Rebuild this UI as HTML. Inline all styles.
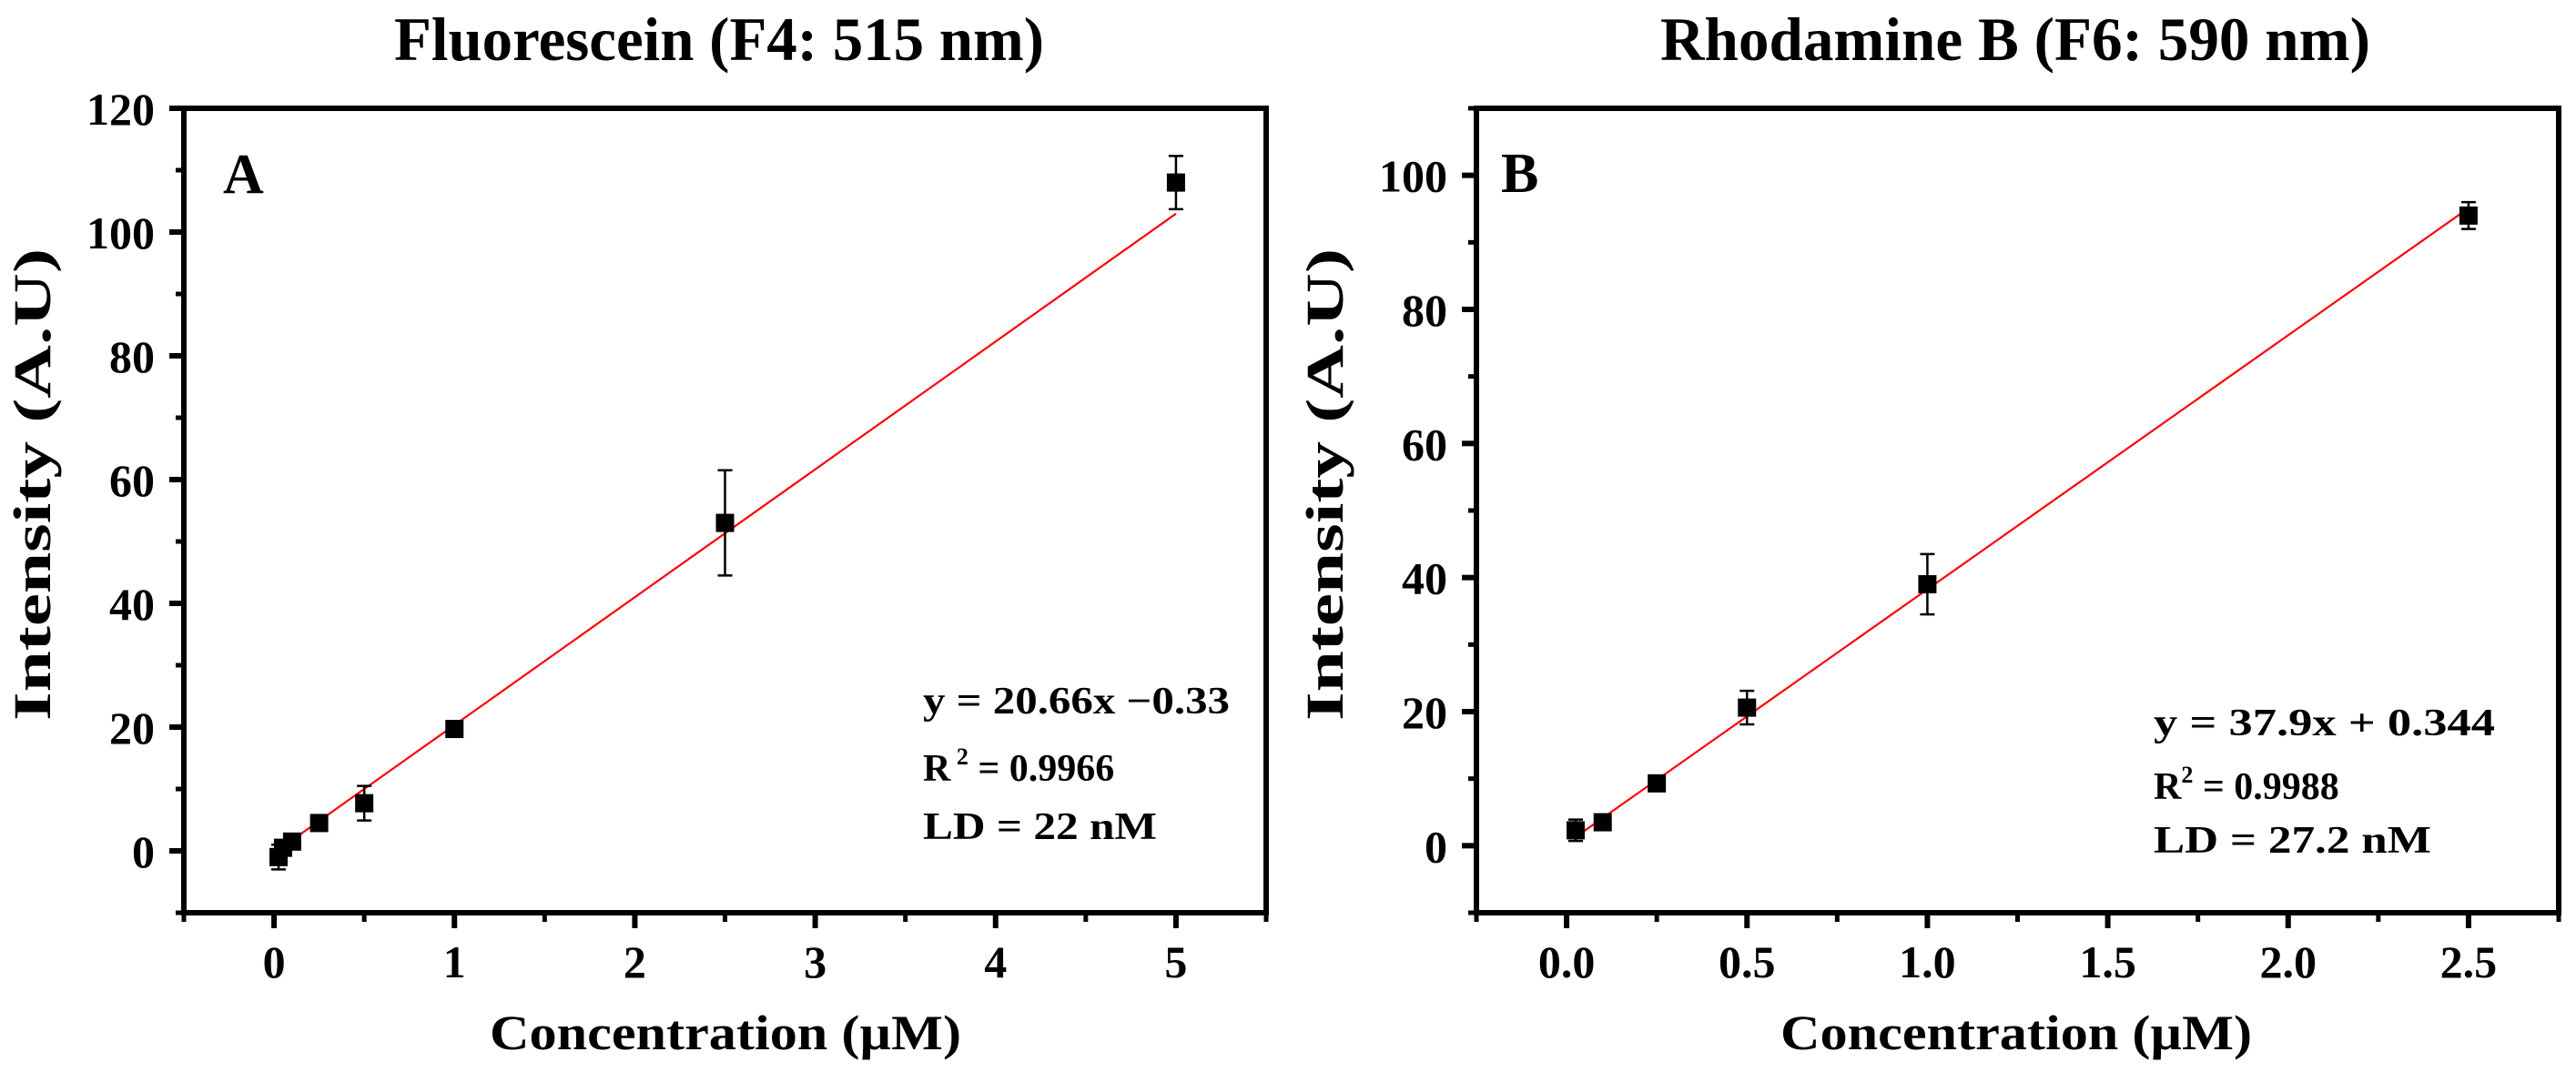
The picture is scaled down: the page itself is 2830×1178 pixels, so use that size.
<!DOCTYPE html>
<html><head><meta charset="utf-8"><style>
html,body{margin:0;padding:0;background:#fff;}
svg{display:block;}
text{font-family:"Liberation Serif",serif;font-weight:bold;fill:#000;}
</style></head><body>
<svg id="chart" width="2830" height="1178" viewBox="0 0 2830 1178" xmlns="http://www.w3.org/2000/svg"></svg>
<script>
// Panel A data
const aX = [0.025, 0.05, 0.1, 0.25, 0.5, 1, 2.5, 5];
const aY = [-1, 0.5, 1.5, 4.5, 7.7, 19.7, 53, 108];
const aErr = [2, 0.5, 0.5, 0.5, 2.8, 0.4, 8.5, 4.3];
const aSlope = 20.66, aIntercept = -0.33;
const aXTicks = [0, 1, 2, 3, 4, 5];
const aXTickLabels = ["0", "1", "2", "3", "4", "5"];
const aYTicks = [0, 20, 40, 60, 80, 100, 120];
const aYTickLabels = ["0", "20", "40", "60", "80", "100", "120"];
// Panel B data
const bX = [0.025, 0.1, 0.25, 0.5, 1, 2.5];
const bY = [2.3, 3.5, 9.3, 20.6, 39, 94];
const bErr = [1.6, 0.5, 0.5, 2.5, 4.5, 2];
const bSlope = 37.9, bIntercept = 0.344;
const bXTicks = [0, 0.5, 1, 1.5, 2, 2.5];
const bXTickLabels = ["0.0", "0.5", "1.0", "1.5", "2.0", "2.5"];
const bYTicks = [0, 20, 40, 60, 80, 100];
const bYTickLabels = ["0", "20", "40", "60", "80", "100"];

const NS = "http://www.w3.org/2000/svg";
const svg = document.getElementById('chart');
function mk(tag, attrs, parent, txt) {
  const e = document.createElementNS(NS, tag);
  for (const k in attrs) e.setAttribute(k, attrs[k]);
  if (txt !== undefined) e.textContent = txt;
  (parent || svg).appendChild(e);
  return e;
}

function panel(cfg) {
  const g = mk('g', {});
  
  
  const sx = v => cfg.x0 + (v - cfg.xmin) / (cfg.xmax - cfg.xmin) * (cfg.x1 - cfg.x0);
  const sy = v => cfg.y0 - (v - cfg.ymin) / (cfg.ymax - cfg.ymin) * (cfg.y0 - cfg.y1);

  const fr = mk('rect', {x: cfg.x0, y: cfg.y1, width: cfg.x1 - cfg.x0, height: cfg.y0 - cfg.y1, fill: 'none', stroke: '#000', 'stroke-width': 6}, g);
  
  

  for (let i = 0; i < cfg.yTicks.length; i++) {
    const v = cfg.yTicks[i], y = sy(v);
    const t = mk('line', {x1: cfg.x0 - 16, x2: cfg.x0, y1: y, y2: y, stroke: '#000', 'stroke-width': 6}, g);
    
    
    const l = mk('text', {x: cfg.x0 - 32, y: y + 18, 'font-size': 50, 'text-anchor': 'end'}, g, cfg.yTickLabels[i]);
    
    
  }
  for (let v = cfg.ymin; v <= cfg.ymax + 0.001; v += cfg.yStep / 2) {
    if (cfg.yTicks.some(t => Math.abs(t - v) < 1e-6)) continue;
    const y = sy(v);
    const t = mk('line', {x1: cfg.x0 - 9, x2: cfg.x0, y1: y, y2: y, stroke: '#000', 'stroke-width': 5}, g);
    
    
  }
  for (let i = 0; i < cfg.xTicks.length; i++) {
    const x = sx(cfg.xTicks[i]);
    const t = mk('line', {x1: x, x2: x, y1: cfg.y0, y2: cfg.y0 + 17, stroke: '#000', 'stroke-width': 6}, g);
    
    
    const l = mk('text', {x: x, y: 1074, 'font-size': 50, 'text-anchor': 'middle'}, g, cfg.xTickLabels[i]);
    
    
  }
  for (let v = cfg.xmin; v <= cfg.xmax + 1e-6; v += cfg.xStep / 2) {
    if (cfg.xTicks.some(t => Math.abs(t - v) < 1e-6)) continue;
    const x = sx(v);
    const t = mk('line', {x1: x, x2: x, y1: cfg.y0, y2: cfg.y0 + 10, stroke: '#000', 'stroke-width': 5}, g);
    
    
  }

  const xa = cfg.xs[0], xb = cfg.xs[cfg.xs.length - 1];
  const fl = mk('line', {x1: sx(xa), y1: sy(cfg.slope * xa + cfg.intercept), x2: sx(xb), y2: sy(cfg.slope * xb + cfg.intercept), stroke: '#ff0000', 'stroke-width': 2.2}, g);
  
  

  for (let i = 0; i < cfg.xs.length; i++) {
    const x = sx(cfg.xs[i]), yt = sy(cfg.ys[i] + cfg.errs[i]), yb = sy(cfg.ys[i] - cfg.errs[i]);
    const eb = mk('path', {d: `M${x},${yt}V${yb}M${x - 8},${yt}H${x + 8}M${x - 8},${yb}H${x + 8}`, stroke: '#000', 'stroke-width': 2.5, fill: 'none'}, g);
    
    
    const p = mk('rect', {x: x - 10, y: sy(cfg.ys[i]) - 10, width: 20, height: 20, fill: '#000'}, g);
    
    
  }
}

panel({name: 'panel-a', x0: 202, x1: 1391, y0: 1003, y1: 119, xmin: -0.5, xmax: 5.5, ymin: -10, ymax: 120,
  xStep: 1, yStep: 20, xTicks: aXTicks, xTickLabels: aXTickLabels, yTicks: aYTicks, yTickLabels: aYTickLabels,
  xs: aX, ys: aY, errs: aErr, slope: aSlope, intercept: aIntercept});
panel({name: 'panel-b', x0: 1622, x1: 2811, y0: 1003, y1: 119, xmin: -0.25, xmax: 2.75, ymin: -10, ymax: 110,
  xStep: 0.5, yStep: 20, xTicks: bXTicks, xTickLabels: bXTickLabels, yTicks: bYTicks, yTickLabels: bYTickLabels,
  xs: bX, ys: bY, errs: bErr, slope: bSlope, intercept: bIntercept});
</script>
<script>
(function(){
const svg = document.getElementById('chart');
const NS = "http://www.w3.org/2000/svg";
function t(name, attrs, txt) {
  const e = document.createElementNS(NS, 'text');
  for (const k in attrs) e.setAttribute(k, attrs[k]);
  e.textContent = txt;
  
  
  svg.appendChild(e);
  return e;
}
t('title-a', {x: 433, y: 66, 'font-size': 68, textLength: 714, lengthAdjust: 'spacingAndGlyphs'}, 'Fluorescein (F4: 515 nm)');
t('title-b', {x: 1824, y: 66, 'font-size': 68, textLength: 780, lengthAdjust: 'spacingAndGlyphs'}, 'Rhodamine B (F6: 590 nm)');
t('panel-label-a', {x: 245, y: 212, 'font-size': 62}, 'A');
t('panel-label-b', {x: 1649, y: 211, 'font-size': 62}, 'B');
t('x-axis-title-a', {x: 538, y: 1153, 'font-size': 54, textLength: 518, lengthAdjust: 'spacingAndGlyphs'}, 'Concentration (µM)');
t('x-axis-title-b', {x: 1956, y: 1153, 'font-size': 54, textLength: 518, lengthAdjust: 'spacingAndGlyphs'}, 'Concentration (µM)');
t('y-axis-title-a', {x: 0, y: 0, 'font-size': 58, textLength: 519, lengthAdjust: 'spacingAndGlyphs', transform: 'translate(55,792) rotate(-90)'}, 'Intensity (A.U)');
t('y-axis-title-b', {x: 0, y: 0, 'font-size': 58, textLength: 519, lengthAdjust: 'spacingAndGlyphs', transform: 'translate(1475,792) rotate(-90)'}, 'Intensity (A.U)');
t('equation-a', {x: 1014, y: 784, 'font-size': 42, textLength: 337, lengthAdjust: 'spacingAndGlyphs'}, 'y = 20.66x \u22120.33');
const r2a = t('r-squared-a', {x: 1014, y: 858, 'font-size': 42}, '');
r2a.innerHTML = 'R<tspan font-size="26" dy="-18"> 2</tspan><tspan dy="18"> = 0.9966</tspan>';
t('detection-limit-a', {x: 1014, y: 922, 'font-size': 42, textLength: 257, lengthAdjust: 'spacingAndGlyphs'}, 'LD = 22 nM');
t('equation-b', {x: 2366, y: 808, 'font-size': 42, textLength: 375, lengthAdjust: 'spacingAndGlyphs'}, 'y = 37.9x + 0.344');
const r2b = t('r-squared-b', {x: 2366, y: 878, 'font-size': 42}, '');
r2b.innerHTML = 'R<tspan font-size="26" dy="-18">2</tspan><tspan dy="18"> = 0.9988</tspan>';
t('detection-limit-b', {x: 2366, y: 937, 'font-size': 42, textLength: 305, lengthAdjust: 'spacingAndGlyphs'}, 'LD =  27.2 nM');
})();
</script>
</body></html>
